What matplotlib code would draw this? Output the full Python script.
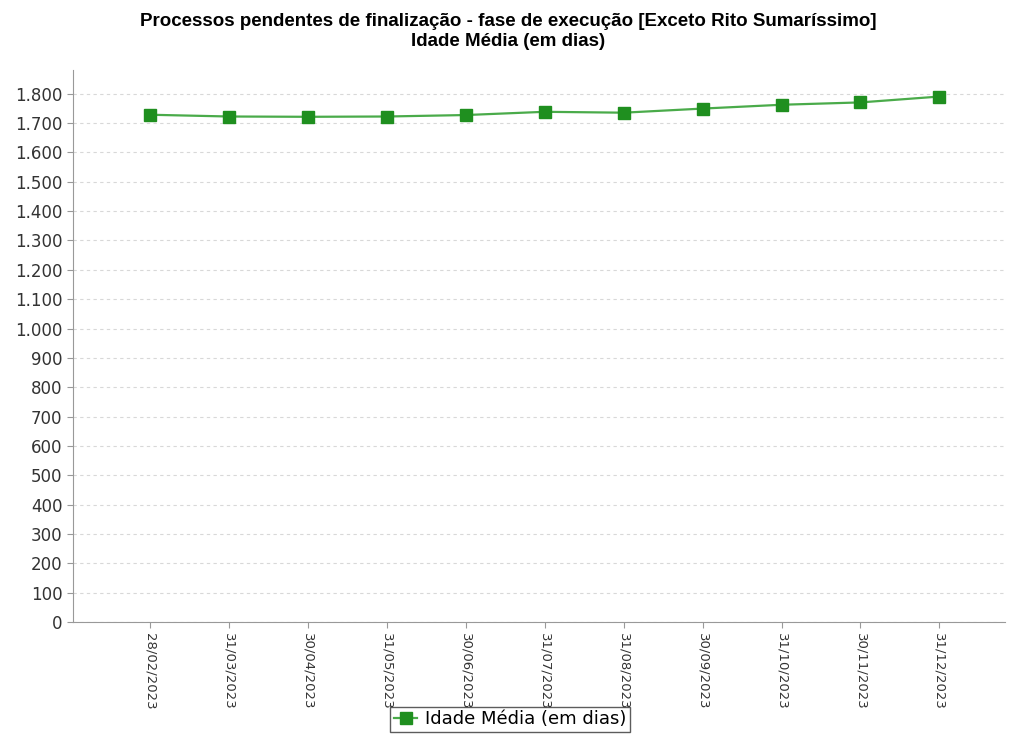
import matplotlib
matplotlib.use("Agg")
import matplotlib.pyplot as plt
from matplotlib.ticker import FuncFormatter

# datas de referência e idade média (em dias)
datas = ["28/02/2023", "31/03/2023", "30/04/2023", "31/05/2023", "30/06/2023",
         "31/07/2023", "31/08/2023", "30/09/2023", "31/10/2023", "30/11/2023",
         "31/12/2023"]
idade_media = [1728, 1722, 1721, 1722, 1727, 1738, 1735, 1749, 1762, 1770, 1790]

fig = plt.figure(figsize=(10.1, 7.38), dpi=100)
ax = fig.add_axes([0.072, 0.157, 0.923, 0.748])

x = list(range(len(datas)))
ax.plot(x, idade_media, color="#4aab4a", lw=1.6, marker="s", markersize=8,
        markerfacecolor="#1f8f1f", markeredgecolor="#1f8f1f",
        label="Idade Média (em dias)")

ax.set_xlim(-0.98, 10.83)
ax.set_ylim(0, 1880)
ax.set_yticks(range(0, 1801, 100))
ax.yaxis.set_major_formatter(FuncFormatter(lambda v, p: f"{int(v):,}".replace(",", ".")))
ax.set_xticks(x)
ax.set_xticklabels(datas, rotation=270, fontsize=9.5, color="#333333")
ax.tick_params(axis="y", labelsize=12, length=4, colors="#999999", labelcolor="#333333")
ax.tick_params(axis="x", length=4, colors="#999999", labelcolor="#333333")

ax.grid(axis="y", color="#d8d8d8", linestyle=(0, (3, 3)), lw=0.8)
for s in ["top", "right"]:
    ax.spines[s].set_visible(False)
for s in ["left", "bottom"]:
    ax.spines[s].set_color("#999999")

fig.suptitle("Processos pendentes de finalização - fase de execução [Exceto Rito Sumaríssimo]\nIdade Média (em dias)",
             fontsize=13.5, fontweight="bold", family="Liberation Sans",
             y=0.982, x=0.503, linespacing=1.2)

leg = fig.legend(loc="lower center", bbox_to_anchor=(0.505, -0.004), fontsize=13,
                 frameon=True, fancybox=False, edgecolor="#333333",
                 borderpad=0.2, handlelength=1.3, handletextpad=0.4)
leg.get_frame().set_linewidth(1.0)

fig.savefig("out.png", dpi=100)
